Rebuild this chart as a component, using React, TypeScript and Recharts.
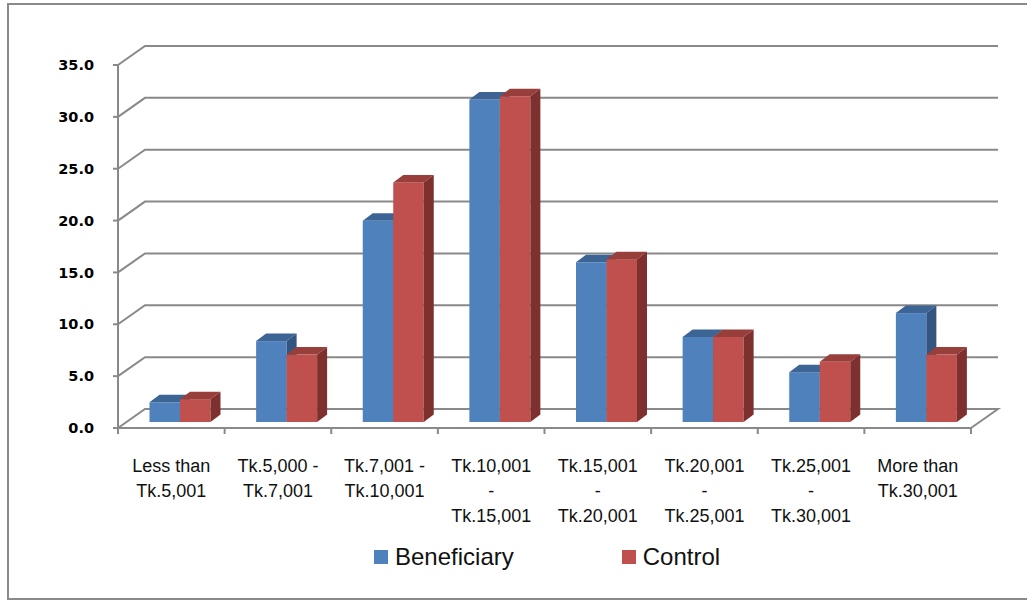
import React from "react";
import { BarChart, Bar, XAxis, YAxis, CartesianGrid, Legend } from "recharts";

// income groups, one entry per line of the axis label
const categories = [
  ["Less than", "Tk.5,001"],
  ["Tk.5,000 -", "Tk.7,001"],
  ["Tk.7,001 -", "Tk.10,001"],
  ["Tk.10,001", "-", "Tk.15,001"],
  ["Tk.15,001", "-", "Tk.20,001"],
  ["Tk.20,001", "-", "Tk.25,001"],
  ["Tk.25,001", "-", "Tk.30,001"],
  ["More than", "Tk.30,001"],
];
const beneficiary = [1.9, 7.8, 19.4, 31.1, 15.4, 8.2, 4.8, 10.5];
const control = [2.2, 6.5, 23.1, 31.4, 15.7, 8.2, 5.8, 6.5];
const yTicks = [0, 5, 10, 15, 20, 25, 30, 35];

const data = categories.map((c, i) => ({
  label: c.join("\n"),
  beneficiary: beneficiary[i],
  control: control[i],
}));

const GRID = "#898989";
const LABEL_FONT = "'Liberation Sans', Arial, sans-serif";
// fake 3d: back wall offset, plane the bars stand in, depth of a bar
const WALL = { dx: 27, dy: -19 };
const PLANE = { dx: 8.5, dy: -6 };
const DEPTH = { dx: 10, dy: -7.5 };

function gridLine(p: any) {
  const { x1, y1, x2 } = p;
  const floor = Math.abs(y1 - (p.y + p.height)) < 0.5;
  let d = `M${x1},${y1}L${x1 + WALL.dx},${y1 + WALL.dy}L${x2 + WALL.dx},${y1 + WALL.dy}`;
  if (floor) d += `L${x2},${y1}`;
  return <path key={p.key} d={d} fill="none" stroke={GRID} strokeWidth={2} />;
}

function box(front: string, top: string, side: string) {
  return (p: any) => {
    const { x, y, width: w, height: h } = p;
    if (h == null || isNaN(h)) return <g />;
    const fx = x + PLANE.dx;
    const fy = y + PLANE.dy;
    const { dx, dy } = DEPTH;
    return (
      <g>
        <rect x={fx} y={fy} width={w} height={h} fill={front} />
        <path d={`M${fx},${fy}L${fx + dx},${fy + dy}L${fx + w + dx},${fy + dy}L${fx + w},${fy}Z`} fill={top} />
        <path
          d={`M${fx + w},${fy}L${fx + w + dx},${fy + dy}L${fx + w + dx},${fy + h + dy}L${fx + w},${fy + h}Z`}
          fill={side}
        />
      </g>
    );
  };
}

function XTick(p: any) {
  const { x, y, payload, index } = p;
  const count = p.visibleTicksCount || categories.length;
  const band = (p.width || 853) / count;
  const axisY = y - 6;
  const lines = String(payload.value).split("\n");
  return (
    <g>
      <line x1={x - band / 2} y1={axisY} x2={x - band / 2} y2={axisY + 6} stroke={GRID} strokeWidth={2} />
      {index === count - 1 && (
        <line x1={x + band / 2} y1={axisY} x2={x + band / 2} y2={axisY + 6} stroke={GRID} strokeWidth={2} />
      )}
      <text x={x} y={axisY + 44} textAnchor="middle" fontFamily={LABEL_FONT} fontSize={18} fill="#111">
        {lines.map((l, i) => (
          <tspan key={i} x={x} dy={i === 0 ? 0 : 25}>
            {l}
          </tspan>
        ))}
      </text>
    </g>
  );
}

function LegendBox({ payload }: any) {
  return (
    <div style={{ display: "flex", alignItems: "center", fontFamily: LABEL_FONT, fontSize: 24, color: "#111" }}>
      {(payload || []).map((e: any, i: number) => (
        <div key={e.value} style={{ display: "flex", alignItems: "center", marginRight: i === 0 ? 108 : 0 }}>
          <span style={{ display: "inline-block", width: 14, height: 14, background: e.color, marginRight: 7 }} />
          {e.value}
        </div>
      ))}
    </div>
  );
}

export default function App() {
  return (
    <div style={{ position: "absolute", left: 0, top: 0, width: 1027, height: 600, overflow: "hidden", background: "#fff" }}>
      <div
        style={{
          position: "absolute",
          left: 7,
          top: 3,
          width: 1100,
          height: 597,
          border: "2px solid #8a8a8a",
          boxSizing: "border-box",
        }}
      />
      <div style={{ position: "absolute", left: 0, top: 0 }}>
        <BarChart
          width={1027}
          height={600}
          data={data}
          margin={{ top: 65, right: 56, left: 58, bottom: 112 }}
          barSize={30.5}
          barGap={0}
        >
          <CartesianGrid vertical={false} horizontal={gridLine} />
          <XAxis
            dataKey="label"
            interval={0}
            height={60}
            tickSize={6}
            tickMargin={0}
            tickLine={false}
            axisLine={{ stroke: GRID, strokeWidth: 2 }}
            tick={<XTick />}
          />
          <YAxis
            width={60}
            domain={[0, 35]}
            ticks={yTicks}
            interval={0}
            tickFormatter={(v: number) => v.toFixed(1)}
            tickSize={5}
            tickMargin={19}
            axisLine={{ stroke: GRID, strokeWidth: 2 }}
            tickLine={{ stroke: GRID, strokeWidth: 2 }}
            tick={{ fill: "#000", fontSize: 14.5, fontWeight: "bold", fontFamily: "'DejaVu Sans', sans-serif" }}
          />
          <Legend
            layout="horizontal"
            verticalAlign="middle"
            align="center"
            content={<LegendBox />}
            wrapperStyle={{ top: 543, left: 374, width: 460 }}
          />
          <Bar
            dataKey="beneficiary"
            name="Beneficiary"
            fill="#4F81BD"
            shape={box("#4F81BD", "#3C6495", "#33557F")}
            isAnimationActive={false}
          />
          <Bar
            dataKey="control"
            name="Control"
            fill="#C0504D"
            shape={box("#C0504D", "#983E3B", "#7D302E")}
            isAnimationActive={false}
          />
        </BarChart>
      </div>
    </div>
  );
}
